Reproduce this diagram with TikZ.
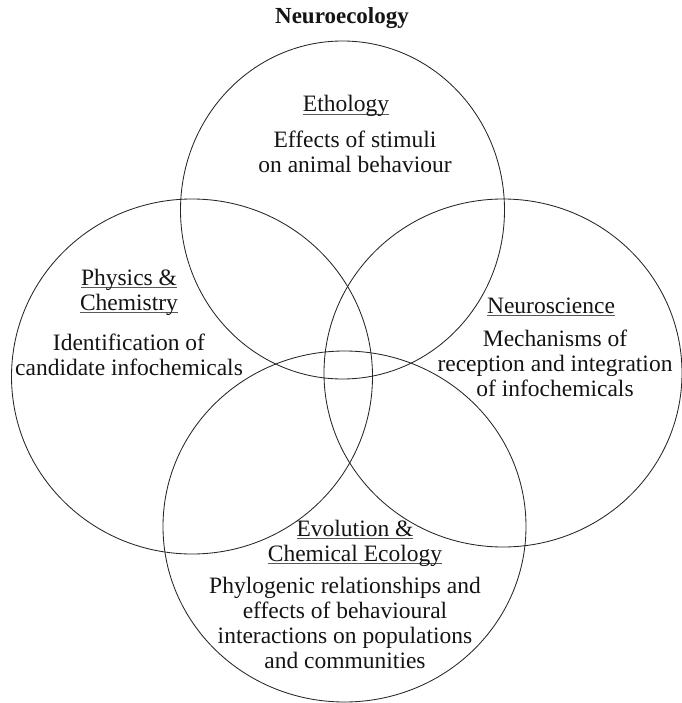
\documentclass[tikz,border=0pt]{standalone}
\usepackage{fontspec}
\setmainfont{Liberation Serif}

% underline that sits just below the baseline, crossing descenders
\newcommand{\ulbox}[1]{\setbox0\hbox{#1}\rlap{\color{black!65}\vrule height -2.4pt depth 3.3pt width \wd0}\box0}
% centred multi-line block whose baseline is the first line
\newcommand{\txtblk}[1]{\begin{tabular}[t]{@{}c@{}}#1\end{tabular}}

\tikzset{
  field/.style={draw=black!85, line width=0.85pt},
  lbl/.style={anchor=base, inner sep=0pt, text=black!92,
              font=\fontsize{23.5}{25}\selectfont},
  ttl/.style={anchor=base, inner sep=0pt, text=black!92,
              font=\fontsize{23}{25}\selectfont\bfseries}
}

\begin{document}
\begin{tikzpicture}[x=1pt, y=-1pt]
  \useasboundingbox (0,0) rectangle (681,703);

  % the four overlapping fields
  \draw[field] (342.5,210) ellipse [x radius=162, y radius=169];
  \draw[field] (192,376.5) ellipse [x radius=180.5, y radius=177.5];
  \draw[field] (503,373) ellipse [x radius=179, y radius=174];
  \draw[field] (344.5,526.5) ellipse [x radius=181.5, y radius=175.5];

  % title
  \node[ttl] (title) at (342,24) {Neuroecology};

  % Ethology
  \node[lbl] (etho) at (346,112) {\ulbox{Ethology}};
  \node[lbl] (ethotxt) at (355,148) {\txtblk{Effects of stimuli\\ on animal behaviour}};

  % Physics & Chemistry
  \node[lbl] (phys) at (129,285) {\txtblk{\ulbox{Physics \&}\\ \ulbox{Chemistry}}};
  \node[lbl] (phystxt) at (129,350) {\txtblk{Identification of\\ candidate infochemicals}};

  % Neuroscience
  \node[lbl] (neuro) at (551,313) {\ulbox{Neuroscience}};
  \node[lbl] (neurotxt) at (555,346) {\txtblk{Mechanisms of\\ reception and integration\\ of infochemicals}};

  % Evolution & Chemical Ecology
  \node[lbl] (evo) at (355,536) {\txtblk{\ulbox{Evolution \&}\\ \ulbox{Chemical Ecology}}};
  \node[lbl] (evotxt) at (345,593) {\txtblk{Phylogenic relationships and\\ effects of behavioural\\ interactions on populations\\ and communities}};
\end{tikzpicture}
\end{document}
